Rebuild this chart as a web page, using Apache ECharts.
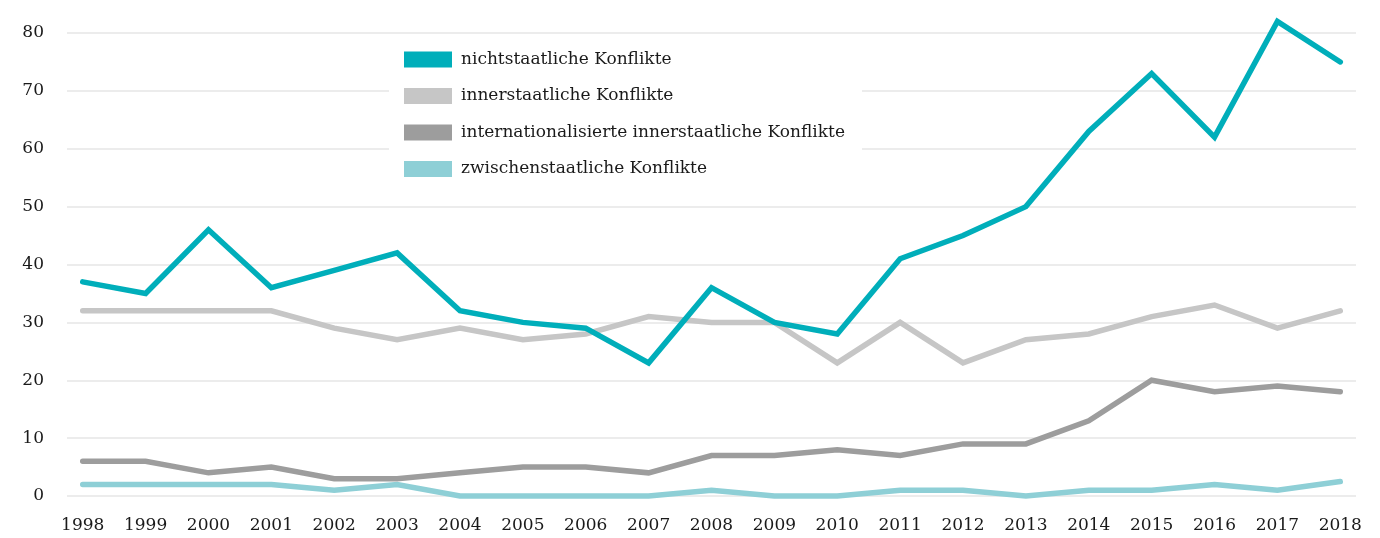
<!DOCTYPE html>
<html>
<head>
<meta charset="utf-8">
<script src="https://cdn.jsdelivr.net/npm/echarts@6/dist/echarts.min.js"></script>
<style>
  html, body { margin: 0; padding: 0; background: #fff; }
  #chart { width: 1380px; height: 538px; }
</style>
</head>
<body>
<div id="chart"></div>
<script>
  // Jahre (x-Achse)
  const years = [1998, 1999, 2000, 2001, 2002, 2003, 2004, 2005, 2006, 2007, 2008,
    2009, 2010, 2011, 2012, 2013, 2014, 2015, 2016, 2017, 2018];

  // Werte je Konfliktart
  const nichtstaatlich = [37, 35, 46, 36, 39, 42, 32, 30, 29, 23, 36, 30, 28, 41, 45, 50, 63, 73, 62, 82, 75];
  const innerstaatlich = [32, 32, 32, 32, 29, 27, 29, 27, 28, 31, 30, 30, 23, 30, 23, 27, 28, 31, 33, 29, 32];
  const internationalisiert = [6, 6, 4, 5, 3, 3, 4, 5, 5, 4, 7, 7, 8, 7, 9, 9, 13, 20, 18, 19, 18];
  const zwischenstaatlich = [2, 2, 2, 2, 1, 2, 0, 0, 0, 0, 1, 0, 0, 1, 1, 0, 1, 1, 2, 1, 2.5];

  // y-Achse Beschriftung
  const yTicks = [0, 10, 20, 30, 40, 50, 60, 70, 80];

  const font = '"DejaVu Serif", "Liberation Serif", serif';

  const seriesDefs = [
    {name: 'nichtstaatliche Konflikte', values: nichtstaatlich, color: '#00aeba'},
    {name: 'innerstaatliche Konflikte', values: innerstaatlich, color: '#c6c6c6'},
    {name: 'internationalisierte innerstaatliche Konflikte', values: internationalisiert, color: '#9d9d9d'},
    {name: 'zwischenstaatliche Konflikte', values: zwischenstaatlich, color: '#8ecfd6'}
  ];

  const chart = echarts.init(document.getElementById('chart'));

  chart.setOption({
    animation: false,
    backgroundColor: '#fff',
    grid: {left: 67, right: 24, top: 33, bottom: 42},
    legend: { //legende mit weissem hintergrund
      orient: 'vertical',
      left: 389,
      top: 37,
      padding: [14, 17, 14, 15],
      backgroundColor: '#fff',
      itemWidth: 48,
      itemHeight: 16,
      itemGap: 19.5,
      icon: 'rect',
      textStyle: {fontFamily: font, fontSize: 17, color: '#1a1a1a', padding: [2, 0, 0, 4]},
      data: seriesDefs.map(s => s.name)
    },
    xAxis: {
      type: 'value',
      min: 1997.75,
      max: 2018.25,
      axisLine: {show: false},
      axisTick: {show: false},
      splitLine: {show: false},
      axisLabel: {
        customValues: years,
        margin: 21,
        fontFamily: font,
        fontSize: 17,
        color: '#1a1a1a',
        formatter: v => String(v)
      }
    },
    yAxis: {
      type: 'value',
      min: 0,
      max: 80,
      interval: 10,
      axisLine: {show: false},
      axisTick: {show: false},
      splitLine: {lineStyle: {color: '#e6e6e6', width: 1.5}},
      axisLabel: {
        margin: 23,
        padding: [6, 0, 0, 0],
        fontFamily: font,
        fontSize: 17,
        color: '#1a1a1a',
        formatter: v => yTicks.indexOf(v) >= 0 ? String(v) : ''
      }
    },
    series: seriesDefs.map((s, i) => ({
      name: s.name,
      type: 'line',
      z: 10 - i,
      clip: false,
      symbol: 'none',
      color: s.color,
      lineStyle: {width: 5.5, cap: 'round', join: 'miter', color: s.color},
      data: years.map((y, j) => [y, s.values[j]])
    }))
  });
</script>
</body>
</html>
